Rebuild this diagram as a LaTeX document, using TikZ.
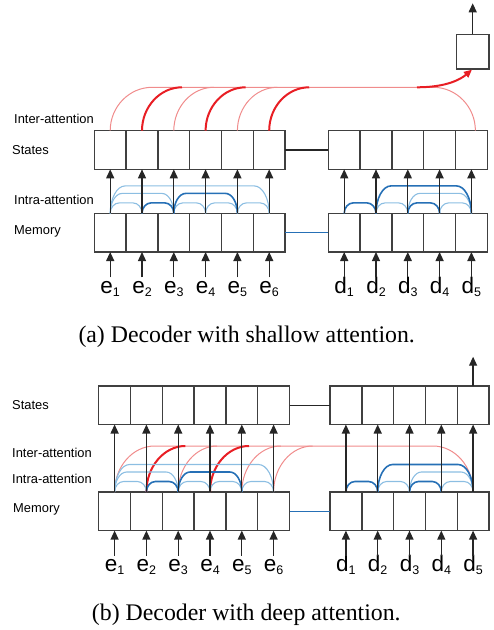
\documentclass[tikz,border=0pt]{standalone}
\usepackage{fontspec}
\setmainfont{Liberation Serif}
\newfontfamily\arial{Liberation Sans}
\usetikzlibrary{calc,arrows.meta}

\definecolor{attred}{RGB}{232,30,36}
\definecolor{attpink}{RGB}{240,140,140}
\definecolor{attblue}{RGB}{38,112,182}
\definecolor{attsky}{RGB}{140,190,226}

%token with subscript
\newcommand{\sublab}[2]{#1\raisebox{-2.5pt}{\fontsize{12.5}{13}\selectfont #2}}
%two-sided attention hump: style, from, to, height, corner
\def\hump#1#2#3#4#5{\draw[#1] let \p1=(#2), \p2=(#3) in (\p1) .. controls (\x1,\y1+0.55*#4pt) and (\x1+0.45*#5pt,\y1+#4pt) .. (\x1+#5pt,\y1+#4pt) -- (\x2-#5pt,\y1+#4pt) .. controls (\x2-0.45*#5pt,\y1+#4pt) and (\x2,\y1+0.55*#4pt) .. (\p2);}
%one-sided rise: style, from, height, corner
\def\rise#1#2#3#4{\draw[#1] let \p1=(#2) in (\p1) .. controls (\x1,\y1+0.55*#3pt) and (\x1+0.45*#4pt,\y1+#3pt) .. (\x1+#4pt,\y1+#3pt);}

\begin{document}
\begin{tikzpicture}[x=1pt,y=-1pt,
  cell/.style={draw=black!75,line width=1.4pt,minimum width=31.8pt,minimum height=38.6pt,inner sep=0pt,outer sep=0pt},
  feed/.style={draw=black!85,line width=1.3pt,-{Triangle[length=9pt,width=8pt]}},
  link/.style={draw=black!85,line width=1.3pt},
  bluelink/.style={draw=attblue,line width=1.3pt},
  tag/.style={font=\arial\fontsize{12.9}{14}\selectfont,anchor=west,inner sep=0pt},
  tok/.style={font=\arial\fontsize{22.5}{24}\selectfont,anchor=base,text height=15pt,text depth=4pt,inner sep=1pt},
  caption/.style={font=\fontsize{23.8}{26}\selectfont,inner sep=0pt},
  redlt/.style={draw=attpink,line width=1pt},
  redtk/.style={draw=attred,line width=2pt},
  redarrow/.style={draw=attred,line width=2pt,-{Triangle[length=8pt,width=7pt]},shorten >=1pt},
  skyline/.style={draw=attsky,line width=1.1pt},
  blueline/.style={draw=attblue,line width=1.6pt}]

\useasboundingbox (0,0) rectangle (494,630);

%arrays, tokens and feeds of both panels
\foreach \pan/\xe/\xd/\ys/\ym/\yb in {a/94.3/328.3/150/232.7/293.5, b/98.7/330/405.2/511.3/571.7}{
  \foreach \i in {1,...,6}{
    \node[cell] (\pan es\i) at ({\xe+31.8*(\i-0.5)},\ys) {};
    \node[cell] (\pan em\i) at ({\xe+31.8*(\i-0.5)},\ym) {};
    \node[tok] (\pan e\i) at ({\xe+31.8*(\i-0.5)},\yb) {\sublab{e}{\i}};
  }
  \foreach \i in {1,...,5}{
    \node[cell] (\pan ds\i) at ({\xd+31.8*(\i-0.5)},\ys) {};
    \node[cell] (\pan dm\i) at ({\xd+31.8*(\i-0.5)},\ym) {};
    \node[tok] (\pan d\i) at ({\xd+31.8*(\i-0.5)},\yb) {\sublab{d}{\i}};
  }
  \draw[link] (\pan es6.east) -- (\pan ds1.west);
  \draw[bluelink] (\pan em6.east) -- (\pan dm1.west);
}

%inter-attention (a)
\hump{redlt}{aes1.north}{$(ads5.north)+(4,0)$}{43.4}{42}
\foreach \i in {3,5}{\rise{redlt}{aes\i.north}{43.4}{40}}
\foreach \i in {2,4,6}{\rise{redtk}{aes\i.north}{43.4}{40}}
\node[cell,minimum width=32.7pt,minimum height=34.7pt] (aout) at (472.7,51.7) {};
\coordinate (tap) at (417,87.3);
\draw[redarrow] (tap) .. controls (447,87.3) and (461,79) .. (aout.south);

%inter-attention (b)
\hump{redlt}{bem1.north}{bdm5.north}{46}{40}
\foreach \i in {3,5,6}{\rise{redlt}{bem\i.north}{46}{39}}
\foreach \i in {2,4}{\rise{redtk}{bem\i.north}{46}{39}}

%intra-attention
\foreach \pan in {a,b}{
  \foreach \u/\v/\h/\r/\s in {1/2/10.5/9/skyline,3/4/10.5/9/skyline,4/5/10.5/9/skyline,5/6/10.5/9/skyline,1/3/20/12/skyline,1/6/27.5/15/skyline,2/3/10.5/9/blueline,3/5/20/12/blueline}{
    \hump{\s}{\pan em\u.north}{\pan em\v.north}{\h}{\r}
  }
  \foreach \u/\v/\h/\r/\s in {2/3/10.5/9/skyline,4/5/10.5/9/skyline,3/5/20/12/skyline,1/2/10.5/9/blueline,3/4/10.5/9/blueline,2/5/27.5/15/blueline}{
    \hump{\s}{\pan dm\u.north}{\pan dm\v.north}{\h}{\r}
  }
  \foreach \i in {1,...,6}{
    \draw[feed] (\pan em\i.north) -- (\pan es\i.south);
    \draw[feed] (\pan e\i) -- (\pan em\i.south);
  }
  \foreach \i in {1,...,5}{
    \draw[feed] (\pan dm\i.north) -- (\pan ds\i.south);
    \draw[feed] (\pan d\i) -- (\pan dm\i.south);
  }
}

%outputs
\coordinate (aend) at (472.7,3.3);
\draw[feed] (aout.north) -- (aend);
\coordinate (bend) at (473.1,356.7);
\draw[feed] (bds5.north) -- (bend);

%side labels
\node[tag] (ainter) at (14,119) {Inter-attention};
\node[tag] (astates) at (12,149.7) {States};
\node[tag] (aintra) at (14,200) {Intra-attention};
\node[tag] (amem) at (14,231) {Memory};
\node[tag] (bstates) at (12,405) {States};
\node[tag] (binter) at (12,453.3) {Inter-attention};
\node[tag] (bintra) at (12,478.7) {Intra-attention};
\node[tag] (bmem) at (13,509.7) {Memory};

%captions
\node[caption] (capa) at (246.7,336.7) {(a) Decoder with shallow attention.};
\node[caption] (capb) at (246.3,615) {(b) Decoder with deep attention.};

\end{tikzpicture}
\end{document}
